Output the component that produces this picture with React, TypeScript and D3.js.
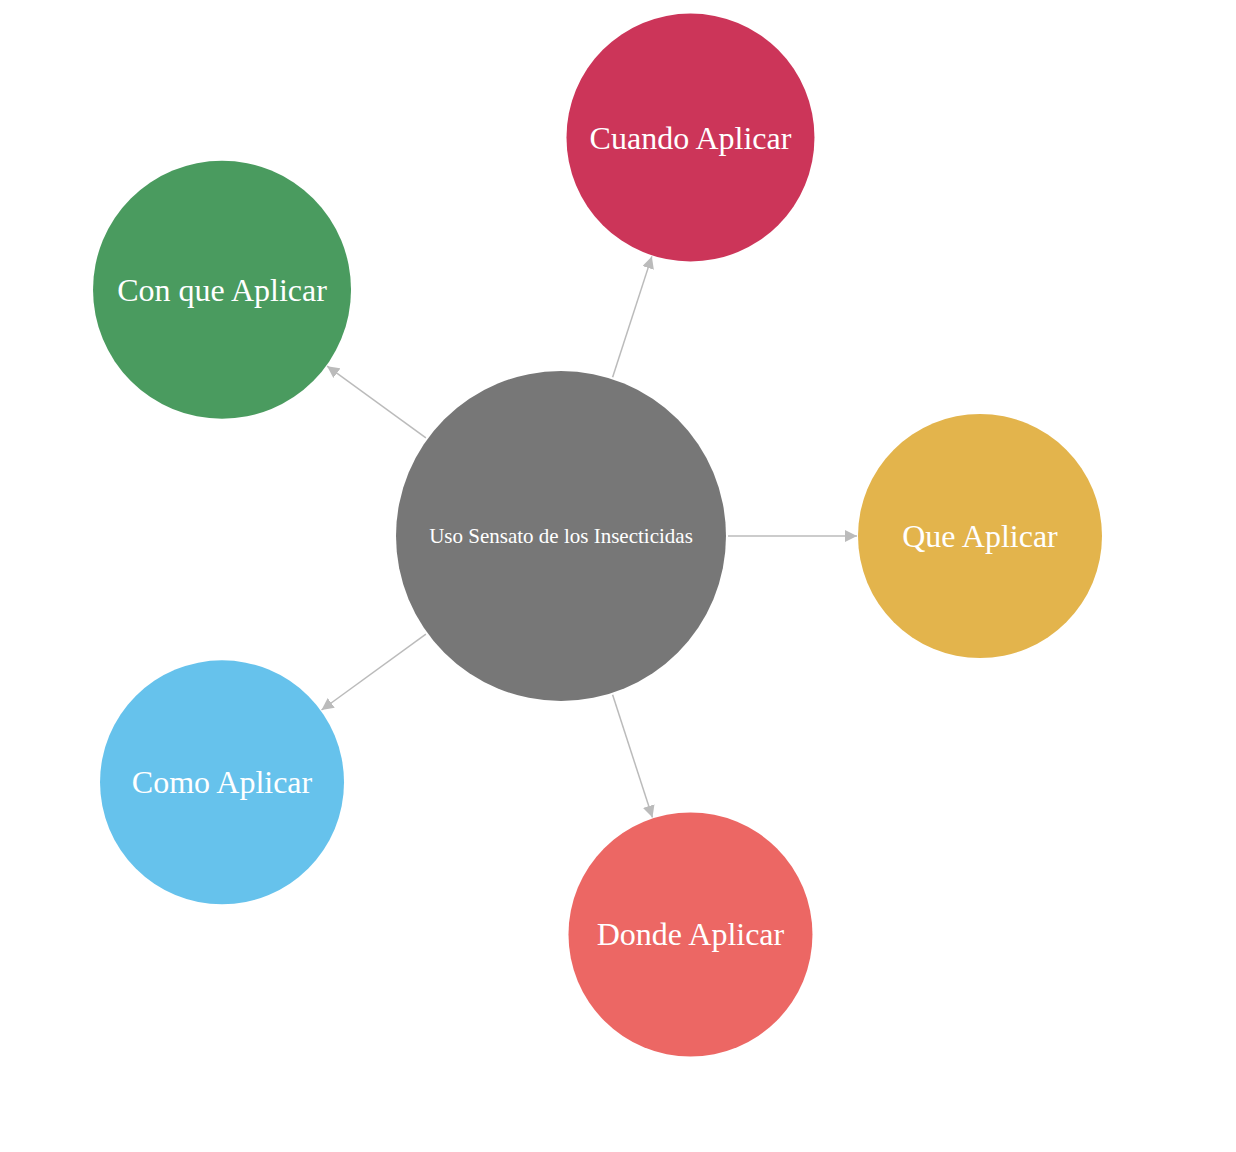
import React from "react";
import * as d3 from "d3";

const rootLabel = "Uso Sensato de los Insecticidas";
const rootColor = "#777777";
const rootRadius = 165;

const childLabels = ["Que Aplicar", "Donde Aplicar", "Como Aplicar", "Con que Aplicar", "Cuando Aplicar"];
const childColors = ["#e3b44c", "#ec6764", "#66c2ec", "#4a9b5f", "#cc3559"];
const childRadii = [122, 122, 122, 129, 124];

const W = 1220;
const H = 1136;
const cx = 553;
const cy = 528;
const dist = 419;

export default function App() {
  const angle = d3.scaleLinear().domain([0, childLabels.length]).range([0, 2 * Math.PI]);
  const nodes = childLabels.map((label, i) => {
    const a = angle(i);
    return {
      label,
      color: childColors[i],
      r: childRadii[i],
      a,
      x: cx + dist * Math.cos(a),
      y: cy + dist * Math.sin(a),
    };
  });

  return (
    <svg width={W} height={H} style={{ display: "block" }} fontFamily="'Liberation Serif', 'DejaVu Serif', serif">
      <defs>
        <marker id="arrow" viewBox="0 -5 10 10" refX={10} refY={0} markerWidth={8} markerHeight={8} orient="auto">
          <path d="M0,-5L10,0L0,5Z" fill="#bbbbbb" />
        </marker>
      </defs>
      {nodes.map((n) => {
        const c = Math.cos(n.a);
        const s = Math.sin(n.a);
        return (
          <line
            key={"e" + n.label}
            x1={cx + c * (rootRadius + 2)}
            y1={cy + s * (rootRadius + 2)}
            x2={n.x - c * (n.r + 1)}
            y2={n.y - s * (n.r + 1)}
            stroke="#bbbbbb"
            strokeWidth={1.5}
            markerEnd="url(#arrow)"
          />
        );
      })}
      <circle cx={cx} cy={cy} r={rootRadius} fill={rootColor} />
      <text x={cx} y={cy} fill="#fff" fontSize={21} textAnchor="middle" dominantBaseline="central">
        {rootLabel}
      </text>
      {nodes.map((n) => (
        <g key={n.label}>
          <circle cx={n.x} cy={n.y} r={n.r} fill={n.color} />
          <text x={n.x} y={n.y} fill="#fff" fontSize={32} textAnchor="middle" dominantBaseline="central">
            {n.label}
          </text>
        </g>
      ))}
    </svg>
  );
}
